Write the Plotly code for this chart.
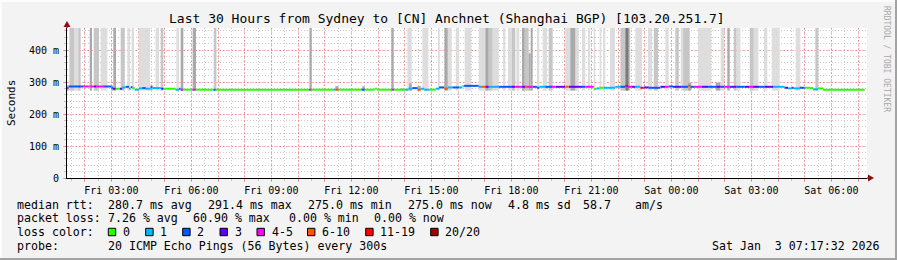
import pandas as pd
import plotly.graph_objects as go

# ---------------- data ----------------
TITLE = "Last 30 Hours from Sydney to [CN] Anchnet (Shanghai BGP) [103.20.251.7]"
BASE = pd.Timestamp("2026-01-02 00:00:00")          # Fri 00:00
WINDOW_START_H = 1.3375                              # hours after Fri 00:00
WINDOW_END_H = 31.3375
Y_MAX_MS = 468.75
Y_TICKS_MS = [0, 100, 200, 300, 400]
Y_TICK_LABELS = ["0", "100 m", "200 m", "300 m", "400 m"]
X_TICK_HOURS = list(range(2, 32))
X_LABEL_HOURS = [3, 6, 9, 12, 15, 18, 21, 24, 27, 30]

LOSS_LABELS = ["0", "1", "2", "3", "4-5", "6-10", "11-19", "20/20"]
LOSS_COLORS = ["#26ff00", "#00b8ff", "#0059ff", "#5e00ff",
               "#ff00ff", "#ff5500", "#ff0000", "#a10000"]

SMOKE_SHADES = ["#dddddd", "#c6c6c6", "#a9a9a9", "#7a7a7a"]
SMOKE_BOTTOM_MS = 273
# (start hour, end hour, top ms, shade 1..4)
SMOKE = [
    (1.41, 1.45, 500, 1), (1.45, 1.60, 500, 2), (1.60, 1.76, 500, 1), (1.76, 1.85, 500, 2),
    (2.19, 2.275, 500, 3), (2.34, 2.54, 500, 2), (2.60, 2.85, 500, 1), (3.075, 3.175, 500, 3),
    (3.35, 3.50, 500, 2), (3.60, 3.70, 500, 1), (3.76, 3.85, 500, 1), (4.025, 4.45, 500, 1),
    (4.66, 4.79, 500, 1), (4.85, 4.95, 500, 2), (5.44, 5.54, 500, 1), (5.60, 5.70, 500, 3),
    (6.05, 6.175, 500, 3), (6.84, 6.94, 500, 2),
    (1.325, 1.40, 290, 3), (3.00, 3.06, 289, 3), (4.475, 4.54, 292, 3),
    (10.43, 10.515, 500, 3), (11.40, 11.52, 287, 3), (12.41, 12.50, 287, 3),
    (13.50, 13.59, 500, 3), (13.85, 14.015, 281, 2), (14.10, 14.265, 500, 1),
    (14.165, 14.265, 296, 3), (14.48, 14.60, 288, 3), (14.665, 14.89, 500, 1),
    (15.25, 15.315, 500, 1), (15.49, 15.615, 500, 3), (15.615, 15.765, 500, 1),
    (15.915, 16.04, 500, 1), (16.25, 16.44, 500, 1),
    (16.40, 16.50, 500, 1), (16.775, 17.025, 500, 1), (17.025, 17.15, 500, 3),
    (17.15, 17.30, 500, 2), (17.30, 17.525, 500, 1), (17.69, 17.775, 500, 1),
    (17.875, 18.025, 500, 1), (18.025, 18.15, 500, 2), (18.19, 18.30, 500, 1),
    (18.40, 18.50, 500, 3), (18.50, 18.65, 500, 2), (18.65, 18.725, 390, 3),
    (18.725, 18.80, 500, 3), (18.96, 19.05, 500, 1), (19.175, 19.34, 500, 1),
    (19.40, 19.55, 500, 2), (20.025, 20.21, 500, 1), (20.21, 20.40, 500, 3),
    (20.40, 20.525, 500, 1), (20.65, 20.775, 500, 1), (20.875, 20.96, 500, 1),
    (21.09, 21.15, 500, 1), (21.31, 21.375, 500, 1), (21.44, 21.525, 500, 1),
    (21.70, 21.89, 500, 1), (22.09, 22.275, 500, 2), (22.275, 22.40, 500, 4),
    (22.40, 22.46, 500, 2), (22.65, 22.90, 500, 1), (23.125, 23.275, 500, 1),
    (23.34, 23.50, 500, 2), (23.775, 23.90, 500, 1),
    (24.15, 24.28, 500, 2), (24.35, 24.44, 500, 1), (24.44, 24.69, 500, 2),
    (24.63, 24.75, 298, 3), (25.00, 25.50, 500, 1), (25.665, 25.84, 298, 3),
    (25.85, 25.98, 500, 1), (26.10, 26.19, 500, 3), (26.34, 26.44, 500, 2),
    (26.44, 26.59, 500, 1), (26.94, 27.09, 500, 2), (27.09, 27.265, 500, 1),
    (27.475, 27.60, 500, 1), (27.765, 28.065, 500, 1), (28.665, 28.84, 500, 1),
    (29.40, 29.515, 500, 2),
]

# (start hour, median rtt ms, loss colour index); each runs to the next start
MEDIAN_BREAKS = [
    (1.33, 281, 4), (1.40, 286, 2), (1.79, 286, 3), (1.85, 286, 2), (1.94, 286, 4),
    (2.16, 286, 5), (2.225, 286, 4), (2.35, 286, 3), (2.44, 286, 4), (2.70, 286, 3),
    (2.75, 286, 2), (3.00, 282, 2), (3.06, 279, 3), (3.16, 279, 0), (3.325, 279, 3),
    (3.41, 283, 1), (3.54, 285, 2), (3.66, 279, 1), (3.725, 284, 2), (3.79, 281, 0),
    (3.875, 276, 1), (4.04, 280, 1), (4.16, 281, 2), (4.29, 279, 1), (4.475, 284, 2),
    (4.54, 281, 1), (4.875, 279, 3), (4.95, 279, 0), (5.41, 276, 1), (5.54, 279, 2),
    (5.60, 276, 4), (5.69, 276, 0), (6.04, 276, 4), (6.16, 276, 0), (6.79, 276, 1),
    (6.85, 276, 2), (6.91, 276, 0),
    (10.415, 276, 4), (10.50, 276, 0), (11.35, 276, 1), (11.415, 276, 5), (11.515, 276, 0),
    (12.38, 276, 2), (12.50, 276, 0), (12.875, 279, 0), (12.96, 276, 0), (13.50, 276, 4),
    (13.60, 276, 0), (14.015, 276, 1), (14.14, 279, 1), (14.29, 281, 2), (14.48, 276, 5),
    (14.60, 279, 1), (14.73, 276, 1), (14.915, 276, 0), (15.165, 279, 1), (15.29, 283, 2),
    (15.49, 279, 5), (15.615, 283, 1), (15.79, 283, 2), (16.04, 283, 1), (16.165, 287, 0),
    (16.23, 288, 2),
    (16.775, 285, 1), (16.90, 285, 5), (17.025, 285, 3), (17.15, 285, 1), (17.525, 285, 2),
    (18.025, 285, 3), (18.15, 285, 4), (18.375, 285, 3), (18.525, 285, 5), (18.59, 285, 4),
    (18.80, 285, 2), (18.96, 282, 2), (19.05, 285, 1), (19.275, 285, 2), (19.525, 285, 4),
    (19.65, 285, 3), (20.025, 285, 5), (20.15, 285, 3), (20.65, 285, 2), (20.775, 285, 4),
    (21.09, 278, 0), (21.19, 280, 1), (21.31, 282, 0), (21.46, 282, 1), (21.90, 285, 1),
    (22.09, 285, 2), (22.275, 288, 6), (22.375, 285, 4), (22.525, 285, 3), (22.65, 285, 1),
    (22.84, 282, 6), (22.96, 283, 3), (23.15, 282, 2), (23.59, 285, 3), (23.775, 285, 4),
    (23.90, 286, 2),
    (24.065, 285, 3), (24.38, 285, 2), (24.63, 288, 5), (24.715, 285, 2), (24.88, 285, 4),
    (25.13, 285, 3), (25.38, 285, 2), (25.69, 285, 3), (25.85, 285, 2), (26.00, 285, 4),
    (26.19, 285, 3), (26.44, 285, 2), (26.75, 285, 3), (26.94, 285, 4), (27.065, 285, 3),
    (27.315, 285, 2), (27.50, 285, 3), (27.815, 285, 1), (28.25, 282, 3), (28.38, 280, 1),
    (28.50, 282, 2), (28.59, 280, 1), (28.815, 282, 2), (29.00, 282, 0), (29.19, 281, 0),
    (29.315, 277, 1), (29.50, 280, 0), (29.69, 276, 0),
]
MEDIAN_END_H = 31.25

STATS_ROWS = [
    [("median rtt:", 16), ("280.7 ms avg", 107), ("291.4 ms max", 207), ("275.0 ms min", 307),
     ("275.0 ms now", 407), ("4.8 ms sd", 507), ("58.7", 582), ("am/s", 634)],
    [("packet loss:", 16), ("7.26 % avg", 107), ("60.90 % max", 192), ("0.00 % min", 288),
     ("0.00 % now", 373)],
    [("loss color:", 16)],
    [("probe:", 16), ("20 ICMP Echo Pings (56 Bytes) every 300s", 107)],
]
LEGEND_BOX_X = [108.3, 145.7, 182.7, 220.0, 257.0, 307.5, 365.7, 430.7]
STAMP = "Sat Jan  3 07:17:32 2026"
CREDIT = "RRDTOOL / TOBI OETIKER"

# ---------------- figure ----------------
W, H = 897, 260
L, R, T, B = 67, 30, 28, 82
PW, PH = W - L - R, H - T - B
FONT = "DejaVu Sans Mono"


def t(h):
    return BASE + pd.Timedelta(hours=h)


def px(x):
    return (x - L) / PW


def py(y):
    return (T + PH - y) / PH


fig = go.Figure()

for s, e, top, shade in sorted(SMOKE, key=lambda r: r[3]):
    fig.add_trace(go.Bar(
        x=[t((s + e) / 2)], y=[top - SMOKE_BOTTOM_MS], base=[SMOKE_BOTTOM_MS],
        width=[(e - s) * 3600 * 1000], marker=dict(color=SMOKE_SHADES[shade - 1], line=dict(width=0)),
        hoverinfo="skip", showlegend=False))

segs = []
for i, (s, v, c) in enumerate(MEDIAN_BREAKS):
    e = MEDIAN_BREAKS[i + 1][0] if i + 1 < len(MEDIAN_BREAKS) else MEDIAN_END_H
    segs.append((s, e, v, c))
for c, col in enumerate(LOSS_COLORS):
    xs, ys = [], []
    for s, e, v, cc in segs:
        if cc == c:
            xs += [t(s), t(e), None]
            ys += [v, v, None]
    if xs:
        fig.add_trace(go.Scatter(x=xs, y=ys, mode="lines", line=dict(color=col, width=2),
                                 hoverinfo="skip", showlegend=False))

major_grid = "rgba(255,60,60,0.4)"
minor_grid = "rgba(150,150,150,0.5)"

fig.update_layout(
    width=W, height=H, margin=dict(l=L, r=R, t=T, b=B),
    paper_bgcolor="#f3f3f3", plot_bgcolor="#ffffff",
    barmode="overlay", showlegend=False,
    font=dict(family=FONT, color="#000000"),
    xaxis=dict(
        type="date", range=[t(WINDOW_START_H), t(WINDOW_END_H)],
        tickmode="array", tickvals=[t(h) for h in X_TICK_HOURS],
        ticktext=[t(h).strftime("%a %H:%M") if h in X_LABEL_HOURS else "" for h in X_TICK_HOURS],
        tickfont=dict(family=FONT, size=10, color="#000"),
        showgrid=True, gridcolor=major_grid, griddash="2px,2px", gridwidth=1,
        ticks="outside", ticklen=3, tickcolor=major_grid,
        minor=dict(dtick=1800000, tick0=t(0), showgrid=True, gridcolor=minor_grid,
                   griddash="1px,2px", ticks="outside", ticklen=2, tickcolor=minor_grid),
        showline=True, linecolor="#000", linewidth=1, zeroline=False, fixedrange=True,
    ),
    yaxis=dict(
        range=[0, Y_MAX_MS], tickmode="array", tickvals=Y_TICKS_MS, ticktext=Y_TICK_LABELS,
        tickfont=dict(family=FONT, size=10, color="#000"),
        showgrid=True, gridcolor=major_grid, griddash="2px,2px", gridwidth=1,
        ticks="outside", ticklen=3, tickcolor=major_grid, ticklabelstandoff=2,
        minor=dict(dtick=20, tick0=0, showgrid=True, gridcolor=minor_grid,
                   griddash="1px,2px", ticks="outside", ticklen=2, tickcolor=minor_grid),
        showline=True, linecolor="#000", linewidth=1, zeroline=False, fixedrange=True,
    ),
)

ann = []
ann.append(dict(text=TITLE, x=px(447), y=py(19), xanchor="center", yanchor="middle",
                font=dict(family=FONT, size=13, color="#000")))
ann.append(dict(text="Seconds", x=px(11), y=py(103), textangle=-90, xanchor="center", yanchor="middle",
                font=dict(family=FONT, size=11, color="#000")))
ann.append(dict(text=CREDIT, x=px(887), y=py(59), textangle=90, xanchor="center", yanchor="middle",
                font=dict(family=FONT, size=8, color="#a8a8a8")))
row_y = [204.5, 218, 232, 246]
for r, row in enumerate(STATS_ROWS):
    for txt, x0 in row:
        ann.append(dict(text=txt, x=px(x0), y=py(row_y[r]), xanchor="left", yanchor="middle",
                        font=dict(family=FONT, size=11.6, color="#000")))
for i, lab in enumerate(LOSS_LABELS):
    ann.append(dict(text=lab, x=px(LEGEND_BOX_X[i] + 13.5), y=py(row_y[2]), xanchor="left",
                    yanchor="middle", font=dict(family=FONT, size=11.6, color="#000")))
ann.append(dict(text=STAMP, x=px(881), y=py(row_y[3]), xanchor="right", yanchor="middle",
                font=dict(family=FONT, size=11.6, color="#000")))
for a in ann:
    a.update(xref="paper", yref="paper", showarrow=False, borderpad=0)
fig.update_layout(annotations=ann)

shapes = []
for i, col in enumerate(LOSS_COLORS):
    x0 = LEGEND_BOX_X[i]
    shapes.append(dict(type="rect", xref="paper", yref="paper", x0=px(x0), x1=px(x0 + 7.4),
                       y0=py(235.7), y1=py(228.3), fillcolor=col, line=dict(color="#000", width=1)))
# axis arrows
arrow = "#8b1010"
shapes.append(dict(type="line", xref="paper", yref="paper", x0=px(867), x1=px(869), y0=0, y1=0,
                   line=dict(color="#000", width=1)))
shapes.append(dict(type="path", xref="paper", yref="paper",
                   path=f"M {px(868)},{py(174.5)} L {px(874)},{py(178)} L {px(868)},{py(181.5)} Z",
                   fillcolor=arrow, line=dict(color=arrow, width=0)))
shapes.append(dict(type="line", xref="paper", yref="paper", x0=0, x1=0, y0=1, y1=py(26),
                   line=dict(color="#000", width=1)))
shapes.append(dict(type="path", xref="paper", yref="paper",
                   path=f"M {px(63.5)},{py(27)} L {px(67)},{py(21)} L {px(70.5)},{py(27)} Z",
                   fillcolor=arrow, line=dict(color=arrow, width=0)))
# frame
shapes.append(dict(type="rect", xref="paper", yref="paper", x0=px(0), x1=px(W), y0=py(0), y1=py(2),
                   fillcolor="#fcfcfc", line=dict(width=0), layer="below"))
shapes.append(dict(type="rect", xref="paper", yref="paper", x0=px(0), x1=px(2), y0=py(0), y1=py(H),
                   fillcolor="#fcfcfc", line=dict(width=0), layer="below"))
shapes.append(dict(type="rect", xref="paper", yref="paper", x0=px(W - 2), x1=px(W), y0=py(0), y1=py(H),
                   fillcolor="#a3a3a3", line=dict(width=0)))
shapes.append(dict(type="rect", xref="paper", yref="paper", x0=px(0), x1=px(W), y0=py(H - 2), y1=py(H),
                   fillcolor="#a3a3a3", line=dict(width=0)))
fig.update_layout(shapes=shapes)

fig.write_html("out.html", include_plotlyjs=True, config={"displayModeBar": False, "staticPlot": True})
